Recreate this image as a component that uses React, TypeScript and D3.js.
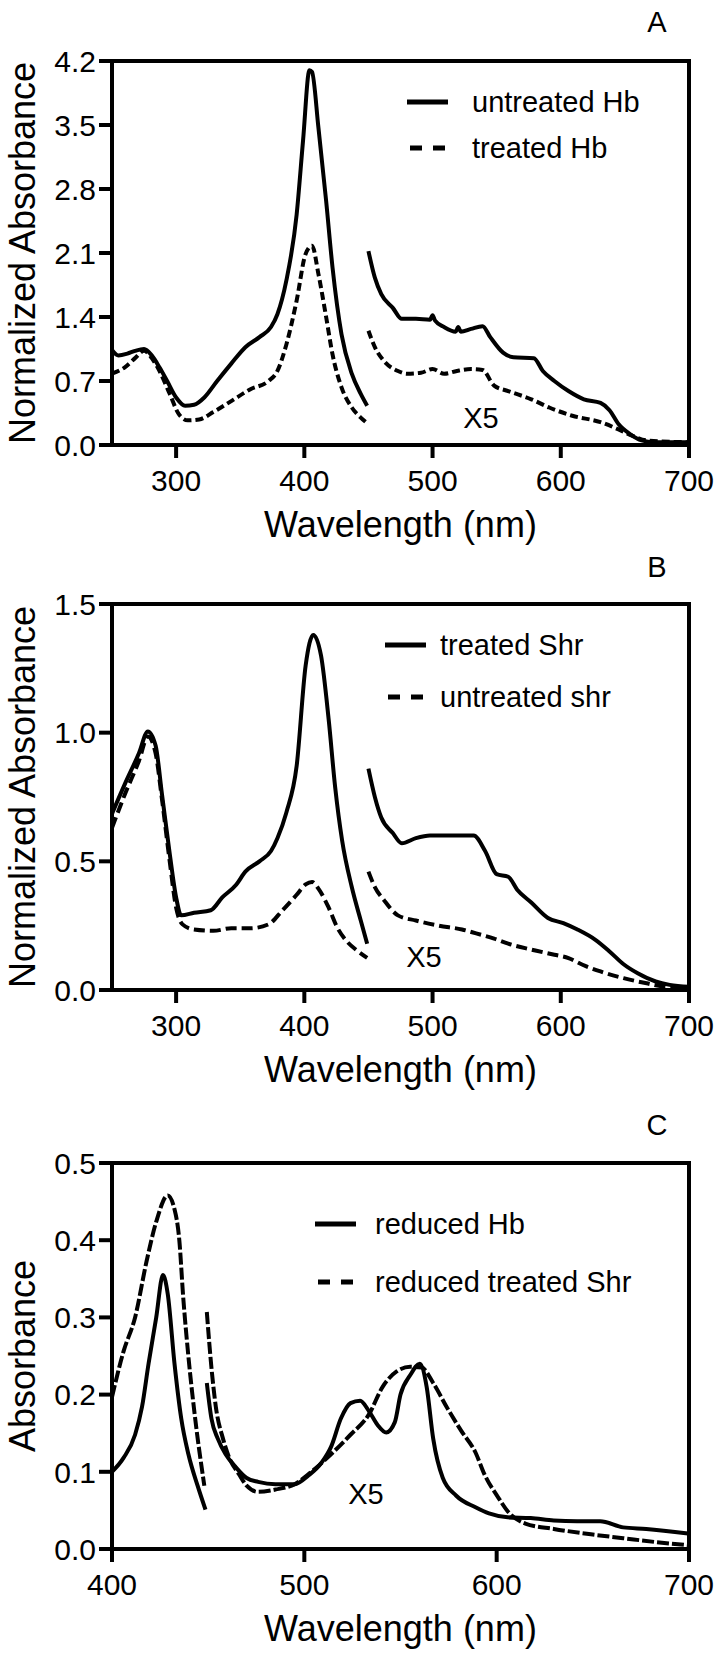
import React from "react";
import * as d3 from "d3";

// ---------- DATA ----------
// Panel A: wavelength (nm), normalized absorbance
const untreatedHbUV: [number, number][] = [
  [250, 1.04], [255, 0.98], [262, 1.0], [268, 1.03], [275, 1.05], [281, 0.98], [287, 0.85], [293, 0.7], [300, 0.52],
  [307, 0.43], [314, 0.44], [322, 0.52], [332, 0.7], [343, 0.89], [354, 1.07], [365, 1.18], [374, 1.29],
  [379, 1.43], [386, 1.8], [394, 2.52], [399, 3.33], [404, 4.1], [406, 4.08], [411, 3.47], [417, 2.67],
  [422, 1.94], [429, 1.21], [437, 0.78], [444, 0.56], [449, 0.43],
];
const untreatedHbVis: [number, number][] = [
  [450, 2.12], [455, 1.83], [460, 1.65], [469, 1.5], [476, 1.38], [487, 1.38], [498, 1.37], [500, 1.42], [502, 1.36],
  [509, 1.29], [518, 1.24], [520, 1.29], [522, 1.24], [530, 1.27], [539, 1.3], [545, 1.18], [555, 1.01],
  [563, 0.96], [579, 0.95], [586, 0.81], [595, 0.7], [606, 0.59], [618, 0.5], [631, 0.46], [638, 0.38],
  [645, 0.23], [654, 0.12], [663, 0.05], [673, 0.03], [700, 0.03],
];
const treatedHbUV: [number, number][] = [
  [250, 0.78], [260, 0.85], [268, 0.95], [275, 1.03], [281, 0.95], [287, 0.81], [295, 0.56], [302, 0.34], [309, 0.27],
  [318, 0.28], [329, 0.36], [343, 0.48], [358, 0.61], [372, 0.7], [379, 0.81], [386, 1.1], [394, 1.58],
  [401, 2.09], [406, 2.18], [411, 1.87], [417, 1.4], [422, 0.99], [429, 0.63], [437, 0.41], [444, 0.3],
  [448, 0.25],
];
const treatedHbVis: [number, number][] = [
  [450, 1.25], [455, 1.07], [462, 0.92], [473, 0.81], [480, 0.78], [491, 0.79], [500, 0.83], [509, 0.78],
  [519, 0.81], [530, 0.83], [539, 0.82], [548, 0.65], [559, 0.59], [577, 0.5], [591, 0.41], [609, 0.32],
  [631, 0.25], [645, 0.17], [656, 0.1], [667, 0.05], [700, 0.03],
];

// Panel B
const treatedShrUV: [number, number][] = [
  [250, 0.685], [260, 0.8], [271, 0.92], [278, 1.005], [284, 0.95], [289, 0.76], [295, 0.53], [300, 0.36],
  [304, 0.29], [314, 0.3], [327, 0.31], [336, 0.36], [347, 0.41], [354, 0.46], [365, 0.5], [374, 0.54],
  [379, 0.59], [386, 0.69], [394, 0.87], [401, 1.26], [407, 1.38], [413, 1.3], [419, 1.05], [424, 0.79],
  [429.5, 0.58], [437, 0.4], [444, 0.27], [449, 0.18],
];
const treatedShrVis: [number, number][] = [
  [450, 0.86], [455, 0.75], [460, 0.67], [469, 0.61], [476, 0.57], [487, 0.59], [498, 0.6], [523, 0.6],
  [532, 0.6], [541, 0.54], [550, 0.45], [559, 0.44], [566, 0.39], [577, 0.34], [590, 0.28], [602, 0.26],
  [613, 0.235], [627, 0.195], [638, 0.15], [649, 0.1], [660, 0.065], [674, 0.033], [685, 0.02], [700, 0.013],
];
const untreatedShrUV: [number, number][] = [
  [250, 0.63], [260, 0.76], [271, 0.89], [278, 0.985], [284, 0.92], [289, 0.74], [295, 0.5], [300, 0.32],
  [305, 0.255], [314, 0.235], [329, 0.23], [343, 0.24], [358, 0.24], [372, 0.255], [383, 0.31], [394, 0.37],
  [401, 0.41], [406, 0.42], [411.5, 0.39], [419, 0.32], [426, 0.24], [433, 0.19], [442, 0.15], [449, 0.125],
];
const untreatedShrVis: [number, number][] = [
  [450, 0.46], [455, 0.4], [462, 0.35], [473, 0.29], [487, 0.27], [505, 0.25], [523, 0.235], [534, 0.22],
  [548, 0.2], [559, 0.18], [577, 0.157], [595, 0.137], [606, 0.124], [617, 0.098], [631, 0.072], [649, 0.046],
  [667, 0.026], [681, 0.013], [700, 0.01],
];

// Panel C
const reducedHbSoret: [number, number][] = [
  [400, 0.1], [406, 0.118], [412, 0.148], [415.6, 0.184], [419, 0.24], [423, 0.3], [426.5, 0.355], [429, 0.33],
  [432.5, 0.24], [436, 0.169], [439.7, 0.123], [444.5, 0.082], [448.6, 0.051],
];
const reducedHbVis: [number, number][] = [
  [449.3, 0.215], [451.7, 0.169], [455, 0.143], [459, 0.123], [464, 0.107], [470, 0.092], [476, 0.087],
  [485, 0.084], [495, 0.084], [502, 0.095], [509, 0.112], [514, 0.133], [519, 0.169], [524, 0.189],
  [529, 0.192], [533.5, 0.179], [538, 0.161], [542.6, 0.151], [547, 0.164], [550, 0.2], [555, 0.225],
  [560, 0.24], [563.6, 0.21], [567, 0.143], [572, 0.092], [579, 0.069], [589, 0.054], [596, 0.046],
  [605.7, 0.041], [617.7, 0.04], [629.7, 0.037], [641.8, 0.036], [653.8, 0.036], [665.8, 0.028],
  [677.8, 0.026], [699.5, 0.02],
];
const reducedShrSoret: [number, number][] = [
  [400, 0.197], [406, 0.256], [412, 0.3], [418, 0.373], [423, 0.424], [429, 0.458], [432.5, 0.44], [435, 0.4],
  [437, 0.327], [439.7, 0.25], [443, 0.174], [448, 0.082],
];
const reducedShrVis: [number, number][] = [
  [449.3, 0.307], [451.7, 0.235], [454, 0.184], [457.7, 0.143], [461, 0.118], [466, 0.097], [470, 0.082],
  [476, 0.074], [485, 0.077], [495, 0.084], [504.6, 0.102], [514, 0.123], [524, 0.148], [533.5, 0.174],
  [540.7, 0.21], [548, 0.23], [555, 0.236], [561, 0.235], [567, 0.215], [574, 0.184], [581.6, 0.153],
  [589, 0.125], [593.6, 0.097], [601, 0.066], [605.7, 0.049], [614.9, 0.033], [629.7, 0.026], [649, 0.019],
  [665.8, 0.014], [682.7, 0.009], [699.5, 0.005],
];

const xTicksAB = [300, 400, 500, 600, 700];
const xTicksC = [400, 500, 600, 700];
const yTicksA = [0.0, 0.7, 1.4, 2.1, 2.8, 3.5, 4.2];
const yTicksB = [0.0, 0.5, 1.0, 1.5];
const yTicksC = [0.0, 0.1, 0.2, 0.3, 0.4, 0.5];

const legendA = ["untreated Hb", "treated Hb"];
const legendB = ["treated Shr", "untreated shr"];
const legendC = ["reduced Hb", "reduced treated Shr"];

// ---------- LAYOUT ----------
const W = 722;
const H = 1657;
const FONT = "'Liberation Sans', Arial, Helvetica, sans-serif";
const LEFT = 112;
const RIGHT = 689;

type Series = { data: [number, number][]; dash?: string };

type PanelProps = {
  top: number;
  bottom: number;
  xDomain: [number, number];
  yDomain: [number, number];
  xTicks: number[];
  yTicks: number[];
  yFmt: (v: number) => string;
  yTitle: string;
  letter: string;
  letterY: number;
  series: Series[];
  legend: string[];
  legendDash: string;
  legendLineX: [number, number];
  legendTextX: number;
  legendY: [number, number];
  x5: [number, number];
};

function Panel(p: PanelProps) {
  const x = d3.scaleLinear().domain(p.xDomain).range([LEFT, RIGHT]);
  const y = d3.scaleLinear().domain(p.yDomain).range([p.bottom, p.top]);
  const line = d3
    .line<[number, number]>()
    .x((d) => x(d[0]))
    .y((d) => y(d[1]))
    .curve(d3.curveMonotoneX);
  const tick = 13;
  return (
    <g>
      <text x={657} y={p.letterY} fontSize={29} textAnchor="middle" fontFamily={FONT}>
        {p.letter}
      </text>
      {p.series.map((s, i) => (
        <path
          key={i}
          d={line(s.data) || ""}
          fill="none"
          stroke="#000"
          strokeWidth={4}
          strokeDasharray={s.dash}
          strokeLinejoin="round"
        />
      ))}
      <rect
        x={LEFT}
        y={p.top}
        width={RIGHT - LEFT}
        height={p.bottom - p.top}
        fill="none"
        stroke="#000"
        strokeWidth={4}
      />
      {p.yTicks.map((t) => (
        <g key={"y" + t}>
          <line x1={LEFT - tick} x2={LEFT} y1={y(t)} y2={y(t)} stroke="#000" strokeWidth={4} />
          <text
            x={LEFT - tick - 3}
            y={y(t)}
            dy="0.36em"
            textAnchor="end"
            fontSize={30}
            fontFamily={FONT}
          >
            {p.yFmt(t)}
          </text>
        </g>
      ))}
      {p.xTicks.map((t) => (
        <g key={"x" + t}>
          <line x1={x(t)} x2={x(t)} y1={p.bottom} y2={p.bottom + tick} stroke="#000" strokeWidth={4} />
          <text x={x(t)} y={p.bottom + 46} textAnchor="middle" fontSize={30} fontFamily={FONT}>
            {t}
          </text>
        </g>
      ))}
      <text
        x={(LEFT + RIGHT) / 2}
        y={p.bottom + 92}
        textAnchor="middle"
        fontSize={36}
        fontFamily={FONT}
      >
        Wavelength (nm)
      </text>
      <text
        transform={`translate(35,${(p.top + p.bottom) / 2}) rotate(-90)`}
        textAnchor="middle"
        fontSize={36}
        fontFamily={FONT}
      >
        {p.yTitle}
      </text>
      {/* legend */}
      <line
        x1={p.legendLineX[0]}
        x2={p.legendLineX[1]}
        y1={p.legendY[0] - 10}
        y2={p.legendY[0] - 10}
        stroke="#000"
        strokeWidth={5}
      />
      <line
        x1={p.legendLineX[0] + 3}
        x2={p.legendLineX[1] - 1}
        y1={p.legendY[1] - 10}
        y2={p.legendY[1] - 10}
        stroke="#000"
        strokeWidth={5}
        strokeDasharray={p.legendDash}
      />
      <text x={p.legendTextX} y={p.legendY[0]} fontSize={29} fontFamily={FONT}>
        {p.legend[0]}
      </text>
      <text x={p.legendTextX} y={p.legendY[1]} fontSize={29} fontFamily={FONT}>
        {p.legend[1]}
      </text>
      <text x={p.x5[0]} y={p.x5[1]} fontSize={29} textAnchor="middle" fontFamily={FONT}>
        X5
      </text>
    </g>
  );
}

export default function App() {
  return (
    <svg
      width={W}
      height={H}
      viewBox={`0 0 ${W} ${H}`}
      style={{ position: "absolute", left: 0, top: 0, background: "#fff" }}
    >
      <rect x={0} y={0} width={W} height={H} fill="#fff" />
      <Panel
        top={61}
        bottom={445}
        xDomain={[250, 700]}
        yDomain={[0, 4.2]}
        xTicks={xTicksAB}
        yTicks={yTicksA}
        yFmt={(v) => v.toFixed(1)}
        yTitle="Normalized Absorbance"
        letter="A"
        letterY={32}
        series={[
          { data: untreatedHbUV },
          { data: untreatedHbVis },
          { data: treatedHbUV, dash: "8,4" },
          { data: treatedHbVis, dash: "8,4" },
        ]}
        legend={legendA}
        legendDash="12,11"
        legendLineX={[407, 448]}
        legendTextX={472}
        legendY={[112, 158]}
        x5={[481, 428]}
      />
      <Panel
        top={604}
        bottom={990}
        xDomain={[250, 700]}
        yDomain={[0, 1.5]}
        xTicks={xTicksAB}
        yTicks={yTicksB}
        yFmt={(v) => v.toFixed(1)}
        yTitle="Normalized Absorbance"
        letter="B"
        letterY={577}
        series={[
          { data: treatedShrUV },
          { data: treatedShrVis },
          { data: untreatedShrUV, dash: "11,5" },
          { data: untreatedShrVis, dash: "11,5" },
        ]}
        legend={legendB}
        legendDash="12,11"
        legendLineX={[385, 426]}
        legendTextX={440}
        legendY={[655, 707]}
        x5={[424, 967]}
      />
      <Panel
        top={1163}
        bottom={1549}
        xDomain={[400, 700]}
        yDomain={[0, 0.5]}
        xTicks={xTicksC}
        yTicks={yTicksC}
        yFmt={(v) => v.toFixed(1)}
        yTitle="Absorbance"
        letter="C"
        letterY={1135}
        series={[
          { data: reducedHbSoret },
          { data: reducedHbVis },
          { data: reducedShrSoret, dash: "12,3" },
          { data: reducedShrVis, dash: "12,3" },
        ]}
        legend={legendC}
        legendDash="12,11"
        legendLineX={[315, 356]}
        legendTextX={375}
        legendY={[1234, 1292]}
        x5={[366, 1504]}
      />
    </svg>
  );
}
